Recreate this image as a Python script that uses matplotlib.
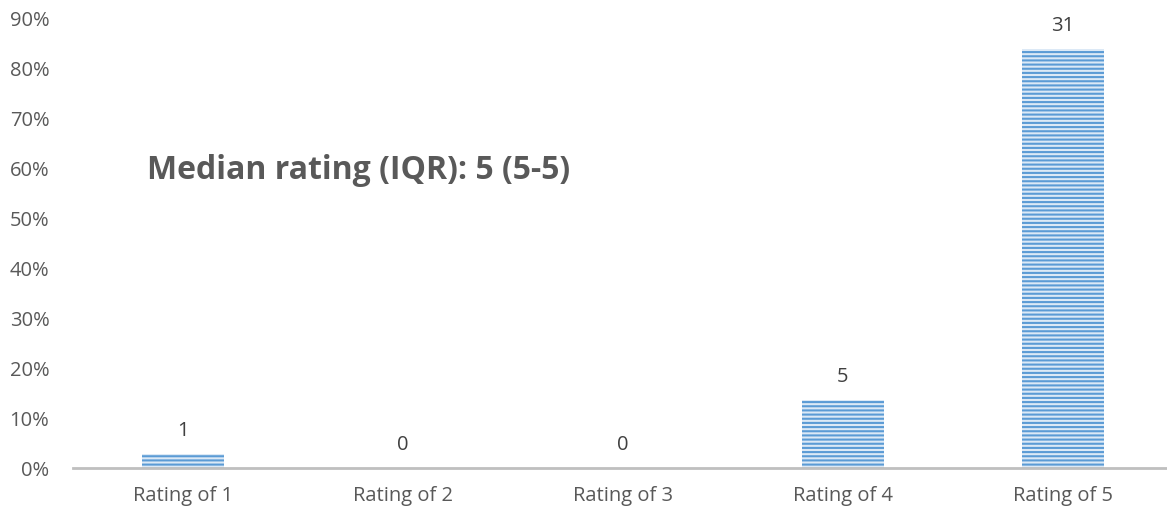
import matplotlib
matplotlib.use('Agg')
import matplotlib.pyplot as plt
import numpy as np

# Rating counts from the survey
categories = ['Rating of 1', 'Rating of 2', 'Rating of 3', 'Rating of 4', 'Rating of 5']
counts = [1, 0, 0, 5, 31]
y_ticks = [0, 0.1, 0.2, 0.3, 0.4, 0.5, 0.6, 0.7, 0.8, 0.9]
note = 'Median rating (IQR): 5 (5-5)'

plt.rcParams['font.family'] = ['Open Sans', 'DejaVu Sans']
plt.rcParams['hatch.linewidth'] = 1.5

total = sum(counts)
shares = [c / total for c in counts]
x = np.arange(len(categories))

fig = plt.figure(figsize=(11.67, 5.16), dpi=100)
ax = fig.add_axes([73 / 1167, 48 / 516, 1100 / 1167, 450 / 516])

# light fill underneath, blue horizontal stripes on top
ax.bar(x, shares, width=0.37, color='#dce9f6', linewidth=0)
ax.bar(x, shares, width=0.37, color='none', hatch='----',
       edgecolor='#5b9bd5', linewidth=0)

for xi, s, c in zip(x, shares, counts):
    ax.text(xi, s + 0.026, str(c), ha='center', va='bottom',
            fontsize=14.5, color='#404040')

ax.set_xlim(-0.5, 4.5)
ax.set_ylim(0, 0.9)
ax.set_yticks(y_ticks)
ax.set_yticklabels([f'{int(round(t * 100))}%' for t in y_ticks])
ax.set_xticks(x)
ax.set_xticklabels(categories)
ax.tick_params(axis='both', length=0, labelsize=14.5, labelcolor='#595959')
ax.tick_params(axis='x', pad=13)
ax.tick_params(axis='y', pad=17)

for side in ['top', 'right', 'left']:
    ax.spines[side].set_visible(False)
ax.spines['bottom'].set_color('#bfbfbf')
ax.spines['bottom'].set_linewidth(2)

ax.text(-0.163, 0.596, note, ha='left', va='center', fontsize=23,
        fontweight='bold', color='#595959')

fig.savefig('out.png', dpi=100)
